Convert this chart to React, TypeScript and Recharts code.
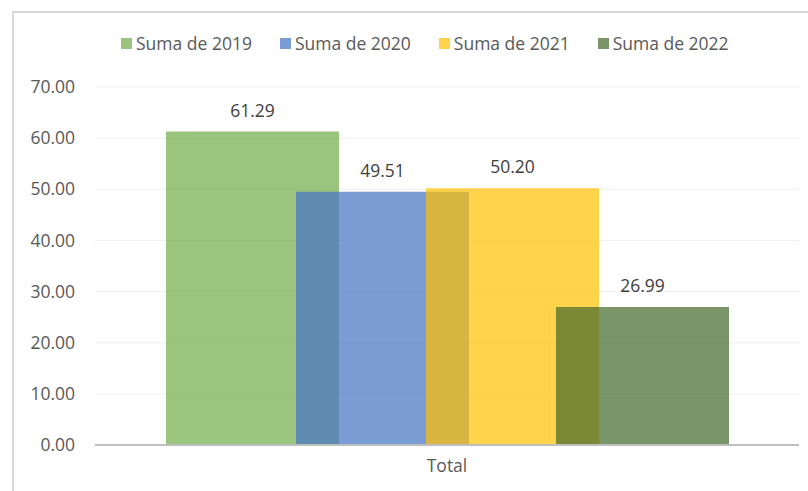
// App.tsx

import {
  BarChart,
  Bar,
  XAxis,
  YAxis,
  CartesianGrid,
  Legend,
  LabelList,
} from "recharts";

const categories = ["Total"];
const seriesNames = ["Suma de 2019", "Suma de 2020", "Suma de 2021", "Suma de 2022"];
const seriesValues = [61.29, 49.51, 50.2, 26.99];
const seriesColors = ["#70AD47", "#4472C4", "#FFC000", "#43682B"];
const yTicks = [0, 10, 20, 30, 40, 50, 60, 70];

const data = categories.map((name) => {
  const row: Record<string, string | number> = { name };
  seriesValues.forEach((v, i) => {
    row[`s${i}`] = v;
  });
  return row;
});

const FONT = "'Open Sans', sans-serif";

function LegendBox() {
  return (
    <div style={{ display: "flex", gap: 28, lineHeight: "24px" }}>
      {seriesNames.map((n, i) => (
        <div key={n} style={{ display: "flex", alignItems: "center" }}>
          <span
            style={{
              width: 11,
              height: 11,
              background: seriesColors[i],
              opacity: 0.7,
              marginRight: 4,
              display: "inline-block",
            }}
          />
          <span style={{ color: "#595959", fontSize: 17.5 }}>{n}</span>
        </div>
      ))}
    </div>
  );
}

export default function App() {
  return (
    <div
      style={{
        position: "fixed",
        left: 12,
        top: 11,
        width: 796,
        height: 480,
        borderLeft: "2px solid #D9D9D9",
        borderTop: "2px solid #D9D9D9",
        background: "#fff",
        fontFamily: FONT,
      }}
    >
      <BarChart
        width={794}
        height={478}
        data={data}
        margin={{ top: 74, right: 9, bottom: 16, left: 0 }}
        barSize={173}
        barGap={-43}
      >
        <CartesianGrid vertical={false} stroke="#EFEFEF" />
        <XAxis
          dataKey="name"
          height={30}
          tickLine={false}
          axisLine={{ stroke: "#BFBFBF", strokeWidth: 2 }}
          tickMargin={9}
          tick={{ fill: "#595959", fontSize: 17.5 }}
        />
        <YAxis
          width={81}
          domain={[0, 70]}
          ticks={yTicks}
          tickLine={false}
          axisLine={false}
          tickMargin={14}
          tickFormatter={(v: number) => v.toFixed(2)}
          tick={{ fill: "#595959", fontSize: 17.5 }}
        />
        <Legend
          layout="horizontal"
          verticalAlign="middle"
          align="center"
          wrapperStyle={{ top: 18, left: 107, width: "auto" }}
          content={() => <LegendBox />}
        />
        {seriesNames.map((n, i) => (
          <Bar
            key={n}
            dataKey={`s${i}`}
            name={n}
            fill={seriesColors[i]}
            fillOpacity={0.7}
            isAnimationActive={false}
          >
            <LabelList
              dataKey={`s${i}`}
              position="top"
              offset={15}
              fill="#404040"
              fontSize={17.5}
              formatter={(v: number) => Number(v).toFixed(2)}
            />
          </Bar>
        ))}
      </BarChart>
    </div>
  );
}
